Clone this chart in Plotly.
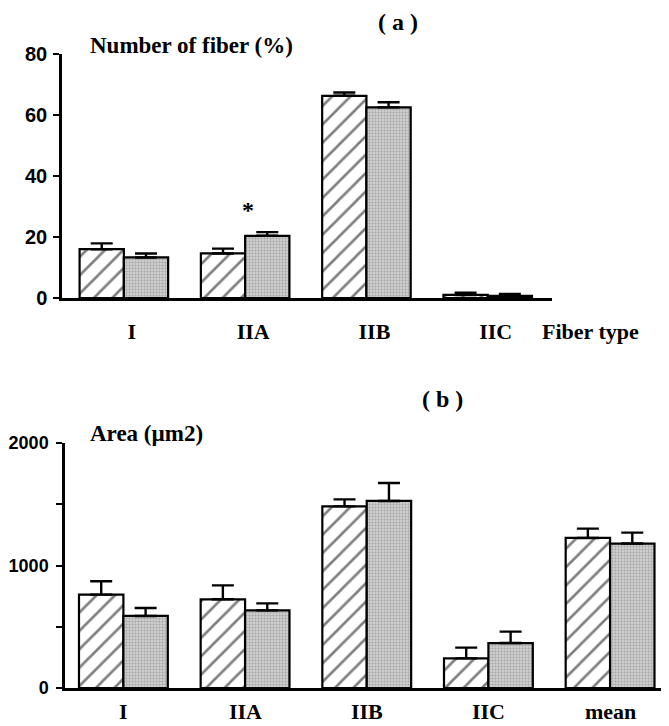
import plotly.graph_objects as go

# ---------------- data ----------------
cats_a = ["I", "IIA", "IIB", "IIC"]
hatched_a = [16.0, 14.6, 66.3, 1.0]
hatched_a_err = [1.9, 1.6, 1.1, 0.7]
gray_a = [13.3, 20.4, 62.5, 0.7]
gray_a_err = [1.3, 1.2, 1.7, 0.6]

cats_b = ["I", "IIA", "IIB", "IIC", "mean"]
hatched_b = [762, 724, 1483, 242, 1225]
hatched_b_err = [109, 114, 57, 88, 76]
gray_b = [588, 634, 1527, 367, 1179]
gray_b_err = [65, 57, 146, 93, 89]

yticks_a = [0, 20, 40, 60, 80]
yticks_b = [0, 500, 1000, 1500, 2000]
yticktext_b = ["0", "", "1000", "", "2000"]

W, H = 669, 726
OFF = 8  # the page body is inset by 8 px

def px_x(p):
    return (p - OFF) / W

def px_y(p):
    return 1 - (p - OFF) / H

serif = "Liberation Serif, Times New Roman, serif"
sans = "Liberation Sans, Arial, sans-serif"

hatch = dict(shape="/", size=13, solidity=0.2, fgcolor="black", bgcolor="white")
stipple = dict(shape=".", size=3, solidity=0.5, fgcolor="#808080", bgcolor="#d8d8d8")
line = dict(color="black", width=2.2)

def err(arr):
    return dict(type="data", symmetric=False, array=arr, arrayminus=[0] * len(arr),
                color="black", thickness=2.4, width=11)

fig = go.Figure()
fig.add_trace(go.Bar(x=cats_a, y=hatched_a, error_y=err(hatched_a_err),
                     marker=dict(color="white", pattern=hatch, line=line),
                     xaxis="x", yaxis="y", offsetgroup="h", showlegend=False))
fig.add_trace(go.Bar(x=cats_a, y=gray_a, error_y=err(gray_a_err),
                     marker=dict(color="#c0c0c0", pattern=stipple, line=line),
                     xaxis="x", yaxis="y", offsetgroup="g", showlegend=False))
fig.add_trace(go.Bar(x=cats_b, y=hatched_b, error_y=err(hatched_b_err),
                     marker=dict(color="white", pattern=hatch, line=line),
                     xaxis="x2", yaxis="y2", offsetgroup="h", showlegend=False))
fig.add_trace(go.Bar(x=cats_b, y=gray_b, error_y=err(gray_b_err),
                     marker=dict(color="#c0c0c0", pattern=stipple, line=line),
                     xaxis="x2", yaxis="y2", offsetgroup="g", showlegend=False))

xlabel_font = dict(family=serif, size=22, color="black", weight="bold")
ytick_font_a = dict(family=sans, size=20, color="black", weight="bold")
ytick_font_b = dict(family=sans, size=18, color="black", weight="bold")

fig.update_layout(
    width=W, height=H,
    margin=dict(l=0, r=0, t=0, b=0),
    paper_bgcolor="white", plot_bgcolor="white",
    barmode="group", bargap=0.27, bargroupgap=0,
    showlegend=False,
    xaxis=dict(domain=[px_x(62), px_x(552)], range=[-0.51, 3.53], type="category",
               showline=True, linecolor="black", linewidth=2.5, ticks="",
               tickfont=xlabel_font, ticklabelshift=8, ticklabelstandoff=12,
               showgrid=False, zeroline=False, anchor="y", automargin=False),
    yaxis=dict(domain=[px_y(298), px_y(54)], range=[0, 80], tickvals=yticks_a,
               showline=True, linecolor="black", linewidth=2.5, ticks="outside",
               ticklen=6, tickwidth=2, tickcolor="black", tickfont=ytick_font_a,
               ticklabelstandoff=2,
               showgrid=False, zeroline=False, anchor="x", automargin=False),
    xaxis2=dict(domain=[px_x(65), 1.0], range=[-0.48, 4.55], type="category",
                showline=True, linecolor="black", linewidth=2.5, ticks="",
                showticklabels=False,
                showgrid=False, zeroline=False, anchor="y2", automargin=False),
    yaxis2=dict(domain=[px_y(688), px_y(443)], range=[0, 2000], tickvals=yticks_b,
                ticktext=yticktext_b,
                showline=True, linecolor="black", linewidth=2.5, ticks="outside",
                ticklen=6, tickwidth=2, tickcolor="black", tickfont=ytick_font_b,
                ticklabelstandoff=4,
                showgrid=False, zeroline=False, anchor="x2", automargin=False),
)

# category labels for panel (b), placed under each group on the category axis
for c in cats_b:
    fig.add_annotation(text=c, x=c, xref="x2", y=px_y(711), yref="paper",
                       showarrow=False, yanchor="middle", borderpad=0,
                       font=xlabel_font)

def note(text, x, y, size=22, xanchor="center", **kw):
    fig.add_annotation(text=text, x=px_x(x), y=px_y(y), xref="paper", yref="paper",
                       showarrow=False, xanchor=xanchor, yanchor="middle",
                       font=dict(family=serif, size=size, color="black", weight="bold"), **kw)

note("( a )", 398, 22, size=24)
note("Number of fiber (%)", 88, 46, size=23, xanchor="left")
note("Fiber type", 590, 331, size=22)
note("( b )", 442, 399, size=24)
note("Area (µm2)", 88, 433, size=23, xanchor="left")

# significance marker above IIA
fig.add_annotation(text="*", x="IIA", y=28.8, xref="x", yref="y", xshift=3,
                   showarrow=False, yanchor="middle",
                   font=dict(family=serif, size=24, color="black", weight="bold"))

fig.write_html("out.html")
